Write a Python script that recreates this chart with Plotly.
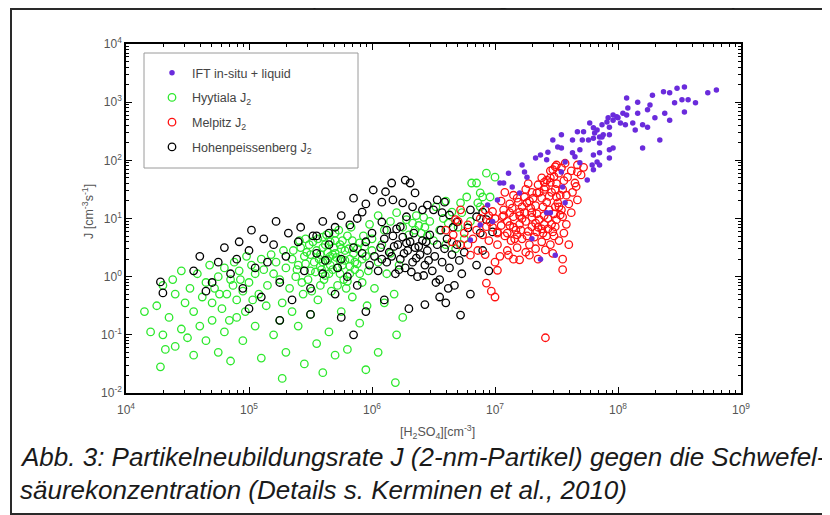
import numpy as np
import plotly.graph_objects as go

# ---- data: (log10 [H2SO4] in cm^-3, log10 J in cm^-3 s^-1) ----
ift_points = [
    (8.80, 3.21), (8.73, 3.16), (8.54, 3.26), (8.48, 3.24), (8.37, 3.18), (8.42, 3.16), (8.63, 2.99),
    (8.57, 3.04), (8.52, 3.04), (8.46, 2.99), (8.54, 2.83), (8.42, 2.69), (8.38, 2.81), (8.30, 2.73),
    (8.28, 3.12), (8.16, 3.00), (8.07, 3.07), (8.26, 2.95), (8.24, 2.87), (8.16, 2.81), (8.08, 2.90),
    (8.07, 2.78), (7.99, 2.75), (7.96, 2.69), (7.92, 2.73), (7.87, 2.61), (7.77, 2.64), (7.80, 2.56),
    (7.72, 2.49), (7.67, 2.49), (7.63, 2.35), (7.54, 2.44), (7.47, 2.35), (7.51, 2.23), (7.54, 2.21),
    (7.43, 2.14), (7.37, 2.09), (7.33, 2.04), (7.42, 2.01), (7.22, 1.92), (7.24, 1.80), (7.26, 1.71),
    (7.11, 1.78), (7.14, 1.54), (7.04, 1.61), (7.07, 1.61), (7.02, 1.32), (7.20, 1.44), (7.76, 2.35),
    (7.71, 2.35), (7.80, 2.38), (7.85, 2.40), (7.88, 2.44), (7.93, 2.44), (7.85, 2.30), (7.93, 2.18),
    (7.96, 2.21), (7.80, 2.09), (7.85, 2.13), (7.93, 2.04), (7.83, 1.97), (7.79, 1.92), (7.85, 1.92),
    (7.80, 1.84), (7.75, 1.66), (7.69, 1.96), (7.65, 2.06), (7.63, 2.13), (7.69, 2.18), (7.57, 1.97),
    (7.54, 1.80), (7.55, 1.54), (7.57, 1.27), (7.45, 1.10), (8.20, 2.21), (8.34, 2.35), (8.14, 2.52),
    (8.20, 2.61), (8.24, 2.57), (8.12, 2.64), (8.06, 2.61), (8.02, 2.64), (8.04, 2.81), (8.00, 2.73),
    (7.96, 2.78), (7.91, 2.66), (7.93, 2.57), (7.83, 2.52), (7.87, 2.40), (7.81, 2.47), (7.42, 1.10),
    (6.80, 0.63), (6.88, 0.89), (7.37, 0.30), (7.49, 0.37), (6.94, 1.23), (7.30, 0.65), (6.98, 0.95),
]

hyytiala_points = [
    # upper arm
    (6.93, 1.78), (7.00, 1.71), (6.81, 1.61), (6.85, 1.61), (6.72, 1.27), (6.77, 1.37), (6.88, 1.44),
    (6.90, 1.37), (6.86, 1.27), (6.96, 1.37), (6.88, 1.20), (6.65, 1.11), (6.73, 1.10), (6.80, 0.95),
    (6.70, 0.85), (6.62, 0.92), (6.55, 0.80), (6.58, 1.00), (6.47, 0.95), (6.42, 1.02), (6.38, 0.88),
    (6.33, 0.92), (6.35, 0.80), (6.40, 0.75), (6.45, 0.70), (6.30, 0.72), (6.28, 0.98), (6.25, 0.85),
    (6.36, 1.05), (6.43, 0.85), (6.50, 0.62), (6.60, 0.55), (6.68, 0.48), (6.75, 0.65), (6.20, 1.10),
    (6.15, 0.95), (6.10, 0.80), (6.05, 1.05), (5.98, 0.90), (6.52, 1.20), (6.60, 1.30),
    # core
    (5.35, 0.30), (5.38, 0.00), (5.40, 0.20), (5.42, 0.50), (5.45, 0.35), (5.48, -0.05), (5.50, 0.10),
    (5.52, 0.60), (5.55, 0.45), (5.58, -0.15), (5.60, 0.25), (5.62, 0.55), (5.63, 0.72), (5.65, 0.05),
    (5.67, -0.25), (5.68, 0.38), (5.70, 0.62), (5.72, 0.15), (5.73, 0.80), (5.75, 0.48), (5.77, -0.05),
    (5.78, 0.28), (5.80, 0.70), (5.82, 0.05), (5.83, 0.85), (5.85, 0.40), (5.88, 0.22), (5.90, 0.58),
    (5.92, -0.10), (5.95, 0.35), (5.97, 0.10), (6.00, 0.45), (6.02, -0.20), (6.05, 0.25), (6.08, 0.55),
    (6.12, 0.05), (6.15, 0.40), (6.18, -0.30), (6.22, 0.20), (5.57, 0.30), (5.64, 0.42), (5.71, 0.33),
    (5.66, 0.20), (5.59, 0.12), (5.74, 0.05), (5.69, 0.50), (5.76, 0.62), (5.53, 0.25), (5.47, 0.42),
    (5.86, 0.12), (5.81, 0.48), (5.61, -0.05), (5.79, -0.20), (5.93, 0.70), (6.00, 0.65), (5.44, -0.30),
    (5.56, -0.40), (5.84, -0.35), (6.10, -0.45), (5.96, -0.50),
    (5.36, 0.45), (5.39, 0.12), (5.41, 0.62), (5.43, -0.10), (5.46, 0.22), (5.49, 0.55), (5.51, -0.25),
    (5.54, 0.08), (5.56, 0.65), (5.58, 0.38), (5.60, 0.50), (5.62, 0.02), (5.64, 0.28), (5.66, 0.60),
    (5.68, 0.12), (5.70, 0.40), (5.72, -0.15), (5.74, 0.55), (5.76, 0.20), (5.78, 0.45), (5.80, -0.08),
    (5.82, 0.30), (5.84, 0.62), (5.86, 0.25), (5.88, 0.48), (5.90, 0.05), (5.92, 0.30), (5.94, 0.52),
    (5.50, 0.38), (5.58, 0.18), (5.66, 0.35), (5.74, 0.28), (5.82, 0.18), (5.60, 0.68), (5.70, 0.75),
    (5.46, 0.65),
    # left part
    (4.62, -0.35), (4.65, -0.10), (4.68, 0.20), (4.70, -0.45), (4.72, -0.20), (4.75, 0.00), (4.78, -0.55),
    (4.80, 0.15), (4.82, -0.30), (4.85, -0.05), (4.88, 0.25), (4.90, -0.40), (4.92, 0.10), (4.95, -0.25),
    (4.98, 0.35), (5.00, -0.10), (5.02, 0.20), (5.05, 0.05), (5.08, -0.30), (5.10, 0.30), (5.12, 0.12),
    (5.15, -0.15), (5.18, 0.38), (5.20, 0.05), (5.22, 0.25), (5.25, -0.05), (5.28, 0.45), (5.30, 0.15),
    (5.33, -0.20), (4.87, -0.15), (4.93, -0.05), (5.03, -0.40), (4.76, -0.30), (4.97, -0.60), (5.14, -0.50),
    (4.84, -0.75), (5.27, -0.45),
    # far left
    (4.15, -0.60), (4.25, -0.50), (4.30, -0.15), (4.35, -0.70), (4.40, -0.30), (4.45, 0.10), (4.48, -0.45),
    (4.52, -0.20), (4.55, -0.60), (4.58, 0.05), (4.20, -0.95), (4.30, -1.00), (4.32, -1.25), (4.28, -1.55),
    (4.40, -1.20), (4.45, -0.90), (4.38, -0.05),
    # lower sparse
    (4.50, -1.05), (4.55, -1.35), (4.60, -0.85), (4.65, -1.10), (4.70, -0.75), (4.75, -1.30), (4.80, -0.95),
    (4.85, -1.45), (4.90, -0.70), (4.95, -1.10), (5.05, -0.85), (5.10, -1.40), (5.20, -1.00), (5.25, -0.75),
    (5.27, -1.75), (5.30, -1.30), (5.40, -0.85), (5.45, -1.50), (5.50, -0.65), (5.55, -1.15), (5.65, -0.95),
    (5.70, -1.35), (5.75, -0.60), (5.80, -1.25), (5.90, -0.80), (5.95, -1.60), (6.05, -1.30), (6.19, -1.82),
    (6.20, -1.00), (6.25, -0.70), (5.60, -1.65), (5.35, -0.60),
]

melpitz_points = [
    (7.49, 1.89), (7.54, 1.87), (7.47, 1.84), (7.67, 1.92), (7.67, 1.80), (7.59, 1.71), (7.65, 1.61),
    (7.67, 1.32), (7.42, 1.66), (7.41, 1.54), (7.34, 1.44), (7.24, 1.37), (7.26, 1.27), (7.50, 1.37),
    (7.51, 1.27), (7.49, 1.20), (7.54, 1.15), (7.55, 1.03), (7.53, 1.06), (7.49, 0.86), (7.30, 1.10),
    (7.20, 1.11), (7.15, 1.03), (7.07, 1.15), (7.06, 1.03), (6.96, 0.94), (6.93, 0.86), (7.02, 0.77),
    (7.10, 0.75), (7.18, 0.72), (7.30, 0.86), (7.34, 0.77), (7.39, 0.75), (7.47, 0.77),
    (7.05, 1.30), (7.12, 1.25), (7.18, 1.35), (7.22, 1.20), (7.28, 1.30), (7.33, 1.22), (7.38, 1.35),
    (7.42, 1.28), (7.46, 1.45), (7.40, 1.50), (7.35, 1.58), (7.45, 1.62), (7.48, 1.72), (7.52, 1.78),
    (7.50, 1.60), (7.55, 1.50), (7.58, 1.40), (7.44, 1.15), (7.40, 1.05), (7.36, 0.98), (7.30, 1.02),
    (7.25, 0.95), (7.20, 0.90), (7.15, 0.85), (7.10, 0.95), (7.05, 0.88), (7.00, 1.00), (6.98, 1.12),
    (6.95, 1.05), (7.08, 0.70), (7.13, 0.62), (7.22, 0.65), (7.27, 0.78), (7.32, 0.68), (7.38, 0.60),
    (7.42, 0.70), (7.46, 0.90), (7.50, 0.98), (7.48, 1.08), (7.52, 1.20), (7.43, 0.82), (7.35, 0.85),
    (7.28, 0.55), (7.18, 0.50), (7.10, 0.45), (7.02, 0.55), (6.95, 0.62), (6.90, 0.72), (6.85, 0.80),
    (6.88, 1.00), (6.92, 1.15), (6.82, 0.65), (6.86, 0.45), (6.92, 0.38), (7.04, 0.35), (7.15, 0.30),
    (7.25, 0.42), (7.33, 0.48), (7.45, 0.55), (7.52, 0.62), (7.56, 0.75), (7.58, 0.90), (7.62, 1.10),
    (7.60, 1.25), (7.63, 1.45), (7.66, 1.55), (7.70, 1.75), (7.72, 1.88), (7.62, 1.82), (7.57, 1.95),
    (7.50, 1.92), (7.45, 1.82), (7.38, 1.70), (7.30, 1.45), (7.25, 1.50), (7.15, 1.40), (7.08, 1.45),
    (7.20, 1.05), (7.12, 1.10), (7.02, 0.75), (6.98, 0.85), (7.40, 0.90), (7.47, 0.40), (7.35, 0.30),
    (7.60, 0.55), (6.78, 0.55), (6.75, 0.75), (7.55, 0.30), (6.60, 0.80), (6.65, 0.60), (6.70, 0.95),
    (6.72, 1.15), (6.93, -0.11), (7.02, 0.11), (6.80, 0.37), (6.72, 0.55), (6.66, 0.72), (6.78, 0.89),
    (6.68, 0.98), (7.00, 0.25), (7.11, 0.37), (7.20, 0.29), (7.28, 0.37), (7.41, 0.46), (7.55, 0.12),
    (7.41, -1.05), (6.97, -0.25), (7.00, -0.35),
    (7.14, 1.18), (7.19, 1.28), (7.24, 1.10), (7.29, 1.18), (7.34, 1.08), (7.39, 1.20), (7.44, 1.38),
    (7.49, 1.50), (7.36, 1.45), (7.31, 1.35), (7.27, 1.60), (7.22, 1.00), (7.17, 0.80), (7.12, 0.88),
    (7.07, 1.05), (7.33, 0.92), (7.38, 0.82), (7.43, 1.00), (7.48, 0.70), (7.26, 0.70), (7.21, 0.80),
    (7.16, 0.65), (7.45, 1.70), (7.40, 1.62), (7.53, 1.40), (7.56, 1.65),
]

hohenpeissenberg_points = [
    (6.16, 1.61), (6.27, 1.66), (6.31, 1.61), (6.11, 1.46), (6.35, 1.44), (6.17, 1.32), (6.08, 1.28),
    (6.25, 1.27), (6.45, 1.23), (6.53, 1.32), (6.59, 1.28), (6.50, 1.15), (6.57, 1.10), (6.63, 1.06),
    (6.69, 0.94), (6.33, 1.20), (6.41, 1.15), (6.80, 1.15), (6.90, 1.11), (6.93, 0.98), (6.85, 1.03),
    (6.78, 0.84), (6.08, 0.94), (6.23, 0.86), (6.28, 1.03), (6.12, 0.80), (6.88, 0.75), (6.98, 0.77),
    (6.01, 1.49), (5.92, 1.11), (5.82, 0.89), (5.95, 1.25), (5.88, 1.00), (5.75, 1.05), (5.70, 0.85),
    (5.60, 0.95), (5.65, 0.75), (5.85, 1.35), (5.55, 0.70),
    (5.92, 0.40), (5.95, 0.60), (5.98, 0.20), (6.00, 0.75), (6.02, 0.35), (6.05, 0.10), (6.07, 0.50),
    (6.10, 0.65), (6.12, 0.25), (6.14, 0.42), (6.17, 0.70), (6.19, 0.05), (6.21, 0.55), (6.23, 0.30),
    (6.25, 0.68), (6.27, 0.15), (6.29, 0.45), (6.31, 0.60), (6.33, 0.25), (6.35, 0.50), (6.37, 0.00),
    (6.39, 0.38), (6.41, 0.62), (6.43, 0.20), (6.45, 0.45), (6.47, 0.72), (6.49, 0.10), (6.51, 0.35),
    (6.53, 0.55), (6.55, -0.05), (6.57, 0.25), (6.59, 0.48), (6.61, 0.65), (6.63, 0.15), (6.65, 0.38),
    (6.67, -0.15), (6.69, 0.55), (6.71, 0.28), (6.73, 0.05), (6.75, 0.42), (6.16, 0.35), (6.26, 0.40),
    (6.36, 0.32), (6.46, 0.28), (6.18, 0.52), (6.28, 0.58), (6.38, 0.52), (6.08, 0.30), (6.22, 0.12),
    (6.32, 0.08), (6.42, 0.02), (6.52, -0.10), (6.62, -0.20), (6.44, 0.60), (6.34, 0.75), (6.20, 0.82),
    (6.56, 0.80), (6.66, 0.85),
    (4.85, 0.05), (4.90, 0.30), (4.95, -0.20), (5.00, 0.45), (5.05, 0.15), (5.10, -0.35), (5.15, 0.25),
    (5.20, 0.55), (5.25, -0.10), (5.30, 0.35), (5.35, -0.40), (5.40, 0.60), (5.45, 0.10), (5.50, -0.20),
    (5.55, 0.40), (5.60, 0.05), (5.65, 0.55), (5.70, -0.30), (5.75, 0.30), (5.80, 0.00), (5.85, 0.50),
    (5.88, -0.15), (5.62, 0.28), (5.72, 0.15), (5.52, 0.70), (5.42, 0.85), (5.32, 0.75), (5.22, 0.95),
    (5.12, 0.65), (5.02, 0.80), (4.92, 0.60), (4.80, 0.50), (4.75, 0.25), (4.70, -0.10),
    (4.28, -0.09), (4.30, -0.28), (4.55, 0.10), (4.60, 0.35), (4.65, -0.25),
    (6.72, -0.66), (6.43, -0.48), (6.30, -0.55), (6.10, -0.40), (5.95, -0.60), (5.75, -0.70), (5.50, -0.65),
    (5.25, -0.75), (5.00, -0.55), (6.55, -0.35), (6.80, -0.30), (6.85, 0.20), (6.90, 0.45), (6.95, 0.10),
    (6.60, -0.45), (5.85, -1.00),
]

series_names = ["IFT in-situ + liquid", "Hyytiala J<sub>2</sub>", "Melpitz J<sub>2</sub>",
                "Hohenpeissenberg J<sub>2</sub>"]
x_tick_exponents = [4, 5, 6, 7, 8, 9]
y_tick_exponents = [-2, -1, 0, 1, 2, 3, 4]


def unpack(points):
    arr = np.array(points)
    return 10 ** arr[:, 0], 10 ** arr[:, 1]


fig = go.Figure()
# draw order: green, black, red, purple; legend order via legendrank
specs = [
    (hyytiala_points, series_names[1], "#2ee82e", "circle-open", 2),
    (hohenpeissenberg_points, series_names[3], "#000000", "circle-open", 4),
    (melpitz_points, series_names[2], "#ff1010", "circle-open", 3),
    (ift_points, series_names[0], "#6a2bdc", "circle", 1),
]
for pts, name, color, symbol, rank in specs:
    x, y = unpack(pts)
    if symbol == "circle":
        marker = dict(symbol="circle", size=5.5, color=color, line=dict(width=0))
    else:
        marker = dict(symbol="circle-open", size=7.5, color=color, line=dict(width=1.3, color=color))
    fig.add_trace(go.Scatter(x=x, y=y, mode="markers", name=name, marker=marker,
                             legendrank=rank, legendgroup=name))

tickfont = dict(family="Liberation Sans", size=12, color="#555555")
minor_x = [m * 10.0 ** e for e in range(4, 9) for m in range(2, 10)]
minor_y = [m * 10.0 ** e for e in range(-2, 4) for m in range(2, 10)]

fig.update_xaxes(type="log", range=[4, 9],
                 tickvals=[10.0 ** e for e in x_tick_exponents],
                 ticktext=[f"10<sup>{e}</sup>" for e in x_tick_exponents],
                 ticks="inside", ticklen=6, tickwidth=1, tickcolor="black",
                 showline=True, linecolor="black", linewidth=1.5, mirror="allticks",
                 showgrid=False, zeroline=False, tickfont=tickfont, ticklabelstandoff=5,
                 minor=dict(tickvals=minor_x, ticks="inside", ticklen=3, tickcolor="black", showgrid=False))
fig.update_yaxes(type="log", range=[-2, 4],
                 tickvals=[10.0 ** e for e in y_tick_exponents],
                 ticktext=[f"10<sup>{e}</sup>" for e in y_tick_exponents],
                 ticks="inside", ticklen=6, tickwidth=1, tickcolor="black",
                 showline=True, linecolor="black", linewidth=1.5, mirror="allticks",
                 showgrid=False, zeroline=False, tickfont=tickfont,
                 minor=dict(tickvals=minor_y, ticks="inside", ticklen=3, tickcolor="black", showgrid=False))

# rendered plot-area box (page pixels); the page adds an 8 px body offset
L, R, T, B = 126, 741, 44, 393
W, H = 830, 515
OFF = 8


def px(xp):
    return (xp - L) / (R - L)


def py(yp):
    return (B - yp) / (B - T)


fig.update_layout(
    width=W, height=H,
    margin=dict(l=L - OFF, r=W - R + OFF, t=T - OFF, b=H - B + OFF),
    paper_bgcolor="white", plot_bgcolor="white",
    showlegend=True,
    legend=dict(x=px(152), y=py(58), xanchor="left", yanchor="top",
                borderwidth=0, bgcolor="rgba(0,0,0,0)",
                font=dict(family="Liberation Sans", size=12.5, color="#444444"),
                tracegroupgap=5.5),
    shapes=[
        dict(type="rect", xref="paper", yref="paper",
             x0=px(11), x1=px(828), y0=py(514), y1=py(9),
             line=dict(color="#2a2a2a", width=2), layer="below"),
        dict(type="rect", xref="paper", yref="paper",
             x0=px(144), x1=px(358), y0=py(168), y1=py(53),
             line=dict(color="#9a9a9a", width=1), fillcolor="white", layer="below"),
    ],
    annotations=[
        dict(text="J [cm<sup>-3</sup>s<sup>-1</sup>]", textangle=-90, xref="paper", yref="paper",
             x=px(88), y=py(212), showarrow=False, xanchor="center", yanchor="middle",
             font=dict(family="Liberation Sans", size=12.5, color="#555555")),
        dict(text="[H<sub>2</sub>SO<sub>4</sub>][cm<sup>-3</sup>]", xref="paper", yref="paper",
             x=px(437), y=py(432), showarrow=False, xanchor="center", yanchor="middle",
             font=dict(family="Liberation Sans", size=12.5, color="#555555")),
        dict(text="<i>Abb. 3: Partikelneubildungsrate J (2-nm-Partikel) gegen die Schwefel-</i>",
             xref="paper", yref="paper", x=px(18), y=py(457), showarrow=False,
             xanchor="left", yanchor="middle",
             font=dict(family="Liberation Sans", size=26, color="#1a1a1a")),
        dict(text="<i>säurekonzentration (Details s. Kerminen et al., 2010)</i>",
             xref="paper", yref="paper", x=px(18), y=py(490), showarrow=False,
             xanchor="left", yanchor="middle",
             font=dict(family="Liberation Sans", size=26, color="#1a1a1a")),
        dict(text="on Schwefelsäuremolekülen (mitunter auch organischen Molekülen)",
             xref="paper", yref="paper", x=px(-14), y=py(11), showarrow=False,
             xanchor="left", yanchor="bottom",
             font=dict(family="Liberation Sans", size=25, color="#1a1a1a")),
    ],
)

fig.write_html("out.html")
